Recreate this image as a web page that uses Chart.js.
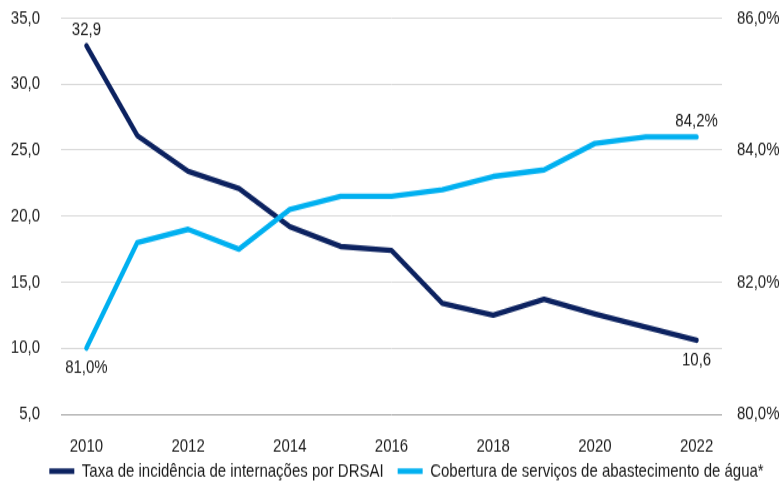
<!DOCTYPE html>
<html>
<head>
<meta charset="utf-8">
<script src="https://cdn.jsdelivr.net/npm/chart.js@4/dist/chart.umd.min.js"></script>
<style>
  html, body { margin: 0; padding: 0; background: #fff; width: 781px; height: 483px; overflow: hidden; }
  #frame { width: 781px; height: 483px; position: relative; overflow: hidden; }
  /* o gráfico é desenhado mais baixo e esticado na vertical; a sobra embaixo fica fora do quadro */
  #wrap { position: absolute; left: 0; top: 0; width: 781px; height: 400px; transform: scaleY(1.2513); transform-origin: 0 0; }
</style>
</head>
<body>
<div id="frame"><div id="wrap"><canvas id="chart" width="781" height="400"></canvas></div></div>
<script>
// Anos da série
const years = ['2010', '2011', '2012', '2013', '2014', '2015', '2016', '2017', '2018', '2019', '2020', '2021', '2022'];

// Taxa de incidência de internações por DRSAI (eixo esquerdo)
const taxaDRSAI = [32.9, 26.1, 23.4, 22.1, 19.2, 17.7, 17.4, 13.4, 12.5, 13.7, 12.6, 11.6, 10.6];

// Cobertura de abastecimento de água, em % (eixo direito)
const coberturaAgua = [81.0, 82.6, 82.8, 82.5, 83.1, 83.3, 83.3, 83.4, 83.6, 83.7, 84.1, 84.2, 84.2];

// Rótulos exibidos só no primeiro e no último ponto
const labelTaxa = { 0: 'above', 12: 'below' };
const labelAgua = { 0: 'below', 12: 'above' };

const FONT = "'Liberation Sans', Arial, sans-serif";
const FSIZE = 15;
const TEXT = '#1a1a1a';
const NAVY = '#0c2260';
const CYAN = '#00b0f0';

const fmt = (v, d) => v.toFixed(d).replace('.', ',');

// Desenha os rótulos de valor nos pontos marcados
const pointLabels = {
  id: 'pointLabels',
  afterDatasetsDraw(chart) {
    const ctx = chart.ctx;
    ctx.save();
    ctx.font = `${FSIZE}px ${FONT}`;
    ctx.fillStyle = TEXT;
    ctx.textAlign = 'center';
    ctx.textBaseline = 'middle';
    chart.data.datasets.forEach((ds, i) => {
      const meta = chart.getDatasetMeta(i);
      Object.entries(ds.pointLabelPos).forEach(([idx, pos]) => {
        const pt = meta.data[idx];
        const txt = fmt(ds.data[idx], 1) + ds.labelSuffix;
        const dy = pos === 'above' ? -13 : 15.5;
        ctx.fillText(txt, pt.x, pt.y + dy);
      });
    });
    ctx.restore();
  }
};

// Empurra a legenda um pouco para a direita e para cima
const legendShift = {
  id: 'legendShift',
  afterLayout(chart) {
    const lg = chart.legend;
    if (!lg) return;
    lg.left += 16; lg.right += 16;
    lg.top -= 6; lg.bottom -= 6;
  }
};

// Largura fixa dos eixos verticais, sem folga extra em cima e embaixo
const fixVertical = w => scale => {
  scale.width = w;
  scale.paddingTop = 0;
  scale.paddingBottom = 0;
};

new Chart(document.getElementById('chart'), {
  type: 'line',
  data: {
    labels: years,
    datasets: [
      {
        label: 'Taxa de incidência de internações por DRSAI',
        data: taxaDRSAI,
        yAxisID: 'y',
        borderColor: NAVY,
        backgroundColor: NAVY,
        borderWidth: 4.4,
        borderCapStyle: 'round',
        borderJoinStyle: 'round',
        pointRadius: 0,
        tension: 0,
        order: 1,
        pointLabelPos: labelTaxa,
        labelSuffix: ''
      },
      {
        label: 'Cobertura de serviços de abastecimento de água*',
        data: coberturaAgua,
        yAxisID: 'y1',
        borderColor: CYAN,
        backgroundColor: CYAN,
        borderWidth: 4.4,
        borderCapStyle: 'round',
        borderJoinStyle: 'round',
        pointRadius: 0,
        tension: 0,
        order: 0,
        pointLabelPos: labelAgua,
        labelSuffix: '%'
      }
    ]
  },
  options: {
    responsive: false,
    animation: false,
    layout: { padding: { top: 14.4, left: 0, right: 0, bottom: 0 } },
    scales: {
      x: {
        offset: true,
        grid: { display: false },
        border: { display: false },
        ticks: {
          color: TEXT,
          font: { family: FONT, size: FSIZE },
          padding: 9,
          maxRotation: 0,
          autoSkip: false,
          callback: (v, i) => (i % 2 === 0 ? years[i] : '')
        },
        afterFit: scale => { scale.height = 30; }
      },
      y: {
        position: 'left',
        min: 5,
        max: 35,
        grid: {
          color: ctx => (ctx.tick && ctx.tick.value === 5 ? '#a6a6a6' : '#d9d9d9'),
          lineWidth: 1,
          drawTicks: false
        },
        border: { display: false },
        ticks: {
          stepSize: 5,
          color: TEXT,
          font: { family: FONT, size: FSIZE },
          padding: 21,
          callback: v => fmt(v, 1)
        },
        afterFit: fixVertical(61)
      },
      y1: {
        position: 'right',
        min: 80,
        max: 86,
        grid: { display: false, drawTicks: false },
        border: { display: false },
        ticks: {
          stepSize: 2,
          color: TEXT,
          font: { family: FONT, size: FSIZE },
          padding: 15,
          callback: v => fmt(v, 1) + '%'
        },
        afterFit: fixVertical(59)
      }
    },
    plugins: {
      legend: {
        position: 'bottom',
        labels: {
          usePointStyle: true,
          pointStyle: 'line',
          pointStyleWidth: 25,
          boxHeight: 10,
          padding: 14,
          color: TEXT,
          font: { family: FONT, size: FSIZE },
          sort: (a, b) => a.datasetIndex - b.datasetIndex
        }
      },
      tooltip: { enabled: false }
    }
  },
  plugins: [pointLabels, legendShift]
});
</script>
</body>
</html>
